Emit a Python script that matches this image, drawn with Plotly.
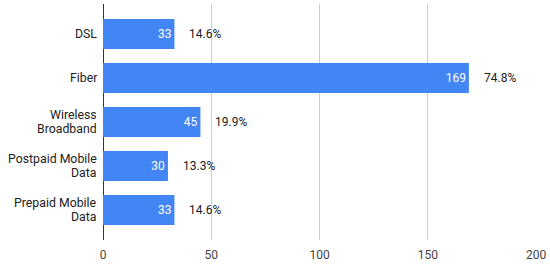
import plotly.graph_objects as go

categories = ["DSL", "Fiber", "Wireless Broadband", "Postpaid Mobile Data", "Prepaid Mobile Data"]
label_lines = [["DSL"], ["Fiber"], ["Wireless", "Broadband"], ["Postpaid Mobile", "Data"], ["Prepaid Mobile", "Data"]]
counts = [33, 169, 45, 30, 33]
percents = ["14.6%", "74.8%", "19.9%", "13.3%", "14.6%"]
x_ticks = [0, 50, 100, 150, 200]

FONT = "Roboto, Arial, sans-serif"
BLUE = "#4285F4"

fig = go.Figure()
fig.add_trace(go.Bar(
    y=categories, x=counts, orientation="h",
    marker=dict(color=BLUE, line=dict(width=0)),
    text=[str(c) for c in counts], textposition="inside", insidetextanchor="end",
    textfont=dict(family=FONT, size=12, color="white"),
    hoverinfo="skip",
))

annotations = []
for cat, c, p in zip(categories, counts, percents):
    annotations.append(dict(x=c, y=cat, xref="x", yref="y", text=p, showarrow=False,
                            xanchor="left", xshift=13, font=dict(family=FONT, size=12, color="#222222")))

LINE = 14.3
for cat, lines in zip(categories, label_lines):
    n = len(lines)
    for i, line in enumerate(lines):
        shift = (((n - 1) / 2) - i) * LINE
        annotations.append(dict(x=0, y=cat, xref="paper", yref="y", text=line, showarrow=False,
                                xanchor="right", xshift=-5, yshift=shift, height=LINE,
                                borderpad=0, valign="middle",
                                font=dict(family=FONT, size=12.3, color="#222222")))

fig.update_layout(
    width=550, height=265,
    margin=dict(l=103, r=14, t=4, b=25),
    paper_bgcolor="white", plot_bgcolor="white",
    showlegend=False, bargap=0.32,
    font=dict(family=FONT, size=12, color="#444444"),
    annotations=annotations,
    xaxis=dict(range=[0, 200], tickvals=x_ticks, showgrid=True, gridcolor="#cccccc", gridwidth=1,
               zeroline=True, zerolinecolor="#333333", zerolinewidth=1, showline=False,
               ticklabelstandoff=6,
               tickfont=dict(family=FONT, size=12, color="#444444"), fixedrange=True),
    yaxis=dict(type="category", categoryorder="array", categoryarray=categories,
               range=[4.68, -0.68], showticklabels=False, showgrid=False, zeroline=False, showline=False,
               fixedrange=True),
)

fig.write_html("out.html", config={"displayModeBar": False},
               post_script="document.body.style.margin='0';document.body.style.overflow='hidden';")
